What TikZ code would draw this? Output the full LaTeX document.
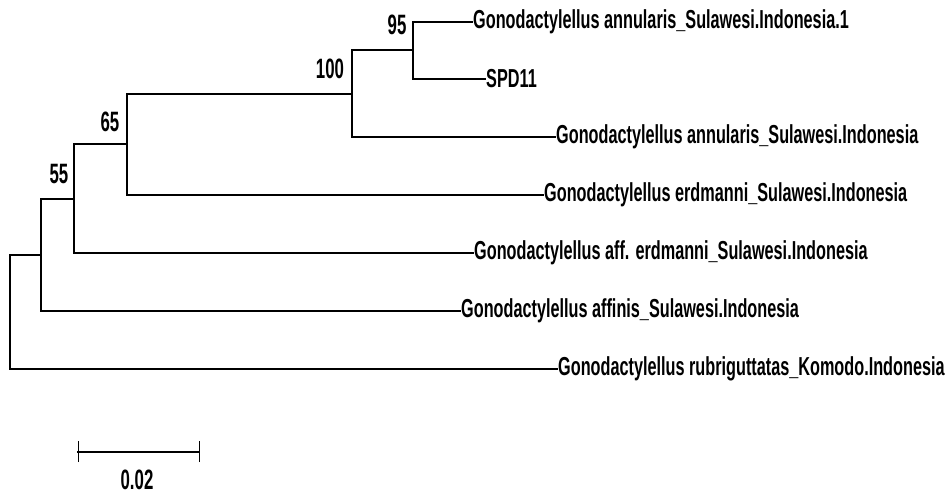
\documentclass[tikz,border=0pt]{standalone}
\usepackage{fontspec}
\newfontfamily\treefont[FakeStretch=0.625]{Liberation Sans}
\newfontfamily\bootfont[FakeStretch=0.6]{Liberation Sans}
\usetikzlibrary{positioning}
\tikzset{
  taxon/.style={anchor=west,inner sep=1pt,font=\treefont\bfseries\fontsize{26}{26}\selectfont},
  boot/.style={inner sep=0pt,font=\bootfont\bfseries\fontsize{28}{28}\selectfont},
  branch/.style={line width=2pt,line cap=rect}
}
\begin{document}
\begin{tikzpicture}[x=1pt,y=-1pt]
      \useasboundingbox (0,0) rectangle (948,494);
      % inner nodes and tips
      \path
        (10,312) coordinate (root)
        (41,255) coordinate (n41)
        (74,199) coordinate (n55)
        (127,144.5) coordinate (n65)
        (352,94) coordinate (n100)
        (413,50.5) coordinate (n95)
        (472,22) coordinate (t1)
        (485,79) coordinate (t2)
        (555,137) coordinate (t3)
        (543,195) coordinate (t4)
        (473,253) coordinate (t5)
        (460,311) coordinate (t6)
        (557,369) coordinate (t7);
      \node[taxon, right=0pt of t1] (l1) {Gonodactylellus annularis\_Sulawesi.Indonesia.1};
      \node[taxon, right=0pt of t2] (l2) {SPD11};
      \node[taxon, right=0pt of t3] (l3) {Gonodactylellus annularis\_Sulawesi.Indonesia};
      \node[taxon, right=0pt of t4] (l4) {Gonodactylellus erdmanni\_Sulawesi.Indonesia};
      \node[taxon, right=0pt of t5] (l5) {Gonodactylellus aff. erdmanni\_Sulawesi.Indonesia};
      \node[taxon, right=0pt of t6] (l6) {Gonodactylellus affinis\_Sulawesi.Indonesia};
      \node[taxon, right=0pt of t7] (l7) {Gonodactylellus rubriguttatas\_Komodo.Indonesia};
      % bootstrap values
      \node[boot] (b95) at (397,25) {95};
      \node[boot] (b100) at (330,69) {100};
      \node[boot] (b65) at (110,122) {65};
      \node[boot] (b55) at (59,174) {55};
      \begin{scope}[branch]
        \draw (n95) |- (t1);
        \draw (n95) |- (t2);
        \draw (n100) |- (n95);
        \draw (n100) |- (t3);
        \draw (n65) |- (n100);
        \draw (n65) |- (t4);
        \draw (n55) |- (n65);
        \draw (n55) |- (t5);
        \draw (n41) |- (n55);
        \draw (n41) |- (t6);
        \draw (root) |- (n41);
        \draw (root) |- (t7);
      \end{scope}
      % scale bar
      \coordinate (sa) at (78,452);
      \coordinate (sb) at (199,452);
      \draw[branch] (sa) -- (sb);
      \draw[line width=1pt] ([yshift=-10pt]sa) -- ([yshift=11pt]sa);
      \draw[line width=1pt] ([yshift=-10pt]sb) -- ([yshift=11pt]sb);
      \node[boot] (sl) at (137,480) {0.02};
\end{tikzpicture}
\end{document}
